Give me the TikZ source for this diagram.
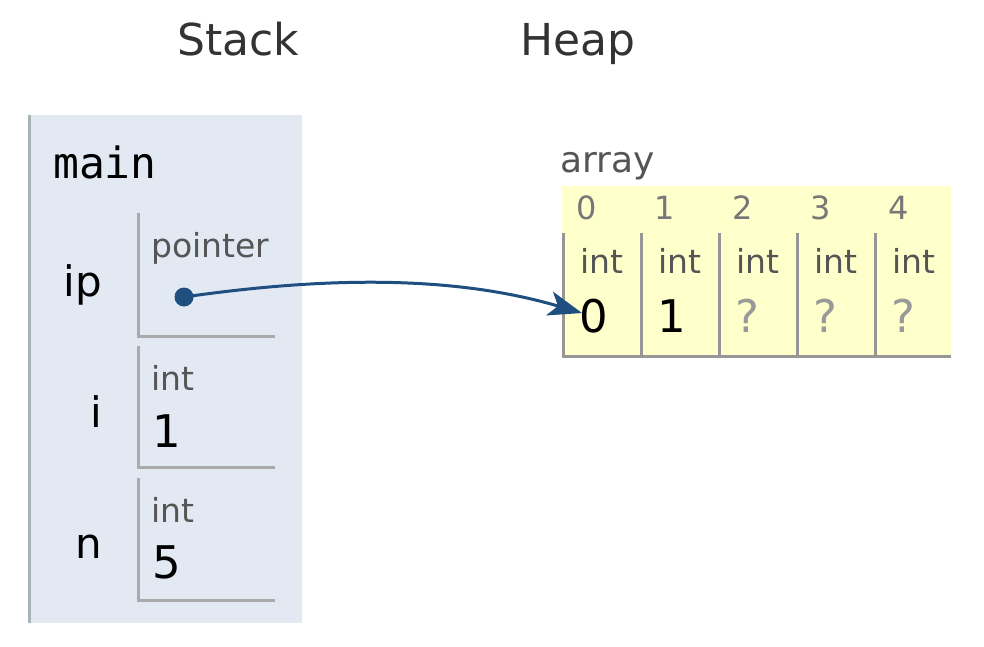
\documentclass[tikz,border=0pt]{standalone}
\usepackage{fontspec}
\setmainfont{DejaVu Sans}
\setmonofont{DejaVu Sans Mono}
\usetikzlibrary{arrows.meta}
\definecolor{stackbg}{RGB}{226,233,243}
\definecolor{stackedge}{RGB}{168,180,184}
\definecolor{heapbg}{RGB}{255,255,204}
\definecolor{boxline}{RGB}{170,170,170}
\definecolor{cellline}{RGB}{150,150,150}
\definecolor{typegrey}{RGB}{85,85,85}
\definecolor{idxgrey}{RGB}{119,119,119}
\definecolor{qgrey}{RGB}{153,153,153}
\definecolor{ptrblue}{RGB}{31,79,127}
\definecolor{titlegrey}{RGB}{51,51,51}
\tikzset{
  txt/.style={inner sep=0pt, anchor=base west},
  title/.style={txt, font=\fontsize{44}{50}\selectfont, text=titlegrey},
  fname/.style={txt, font=\ttfamily\fontsize{43}{50}\selectfont},
  vname/.style={inner sep=0pt, anchor=base east, font=\fontsize{42}{50}\selectfont},
  tname/.style={txt, font=\fontsize{33}{36}\selectfont, text=typegrey},
  val/.style={txt, font=\fontsize{45}{54}\selectfont},
  idx/.style={txt, font=\fontsize{32}{36}\selectfont, text=idxgrey},
  boxl/.style={draw=boxline, line width=3pt},
  celll/.style={draw=cellline, line width=3pt},
  ptr/.style={draw=ptrblue, line width=3pt},
  ptrhead/.tip={Stealth[length=34pt,width=25pt,inset=9pt,line width=0pt]},
}
\begin{document}
\begin{tikzpicture}[x=1pt,y=-1pt]
\useasboundingbox (0,0) rectangle (984,646);
% titles
\node[title] (stacktitle) at (177,55) {Stack};
\node[title] (heaptitle) at (520,55) {Heap};
% stack frame
\fill[stackbg] (28,115) rectangle (302,623);
\draw[stackedge, line width=3pt] (29.5,115) -- (29.5,623);
\node[fname] (main) at (53,178) {main};
% variables
\node[vname] (ip) at (102,296) {ip};
\node[vname] (vi) at (102,427) {i};
\node[vname] (vn) at (102,558) {n};
% pointer box
\draw[boxl] (138.5,213) -- (138.5,336.5) -- (275,336.5);
\node[tname] (ptype) at (151,257) {pointer};
\node[circle, fill=ptrblue, inner sep=0pt, minimum size=19pt] (dot) at (184,297) {};
% i box
\draw[boxl] (138.5,346) -- (138.5,467.5) -- (275,467.5);
\node[tname] (itype) at (151,390) {int};
\node[val] (ival) at (152,447) {1};
% n box
\draw[boxl] (138.5,478) -- (138.5,600.5) -- (275,600.5);
\node[tname] (ntype) at (151,522) {int};
\node[val] (nval) at (152,578) {5};
% heap array
\node[tname, font=\fontsize{36}{40}\selectfont] (arr) at (560,172) {array};
\fill[heapbg] (562,186) rectangle (951,357);
\draw[celll] (562,356.5) -- (951,356.5);
\foreach \k/\v/\c in {0/0/black,1/1/black,2/?/qgrey,3/?/qgrey,4/?/qgrey}{
  \pgfmathsetmacro{\xl}{563.5+78*\k}
  \draw[celll] (\xl,233) -- (\xl,357);
  \node[idx] (idx\k) at (\xl+13,219) {\k};
  \node[tname] (ct\k) at (\xl+17,273) {int};
  \node[val, text=\c] (cv\k) at (\xl+16,332) {\v};
}
% pointer arrow
\coordinate (tip) at (582,313);
\draw[ptr, -ptrhead] (dot.center) .. controls (330,276) and (455,276) .. (tip);
\end{tikzpicture}
\end{document}
